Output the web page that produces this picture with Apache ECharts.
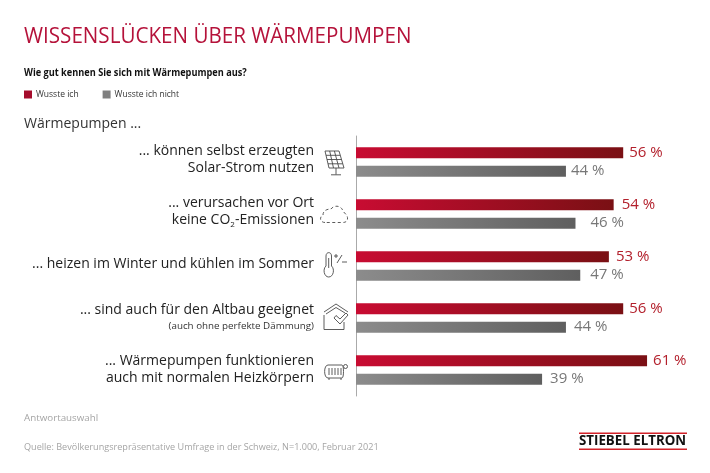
<!DOCTYPE html>
<html>
<head>
<meta charset="utf-8">
<style>html,body{margin:0;padding:0;background:#fff}#chart{width:710px;height:473px}</style>
<script src="https://cdn.jsdelivr.net/npm/echarts@6/dist/echarts.min.js"></script>
</head>
<body>
<div id="chart"></div>
<script>
var categories = [
  '... können selbst erzeugten\nSolar-Strom nutzen',
  '... verursachen vor Ort\nkeine CO₂-Emissionen',
  '... heizen im Winter und kühlen im Sommer',
  '... sind auch für den Altbau geeignet\n(auch ohne perfekte Dämmung)',
  '... Wärmepumpen funktionieren\nauch mit normalen Heizkörpern'
];
var seriesNames = ['Wusste ich', 'Wusste ich nicht'];
var knewValues = [56, 54, 53, 56, 61];
var didNotKnowValues = [44, 46, 47, 44, 39];

// der Abstand der Prozentwerte ist im Original nicht einheitlich
var knewLabelGap = [6, 8, 7, 6, 6];
var didNotKnowLabelGap = [5, 15, 10, 8, 8];
// die Beschriftungen sitzen unterschiedlich weit ueber der Balkenmitte
var categoryLift = [4, 4, 4, 0, 0];

var FONT = '"Open Sans", sans-serif';
var ICON = '#4a4a4a';
var iconCount = 0;

function withGap(values, gaps) {
  var res = [];
  for (var i = 0; i < values.length; i++) {
    res.push({ value: values[i], label: { distance: gaps[i] } });
  }
  return res;
}

function gradient(from, to) {
  return new echarts.graphic.LinearGradient(0, 0, 1, 0, [
    { offset: 0, color: from },
    { offset: 1, color: to }
  ]);
}

function categoryItems() {
  var res = [];
  for (var i = 0; i < categories.length; i++) {
    res.push({ value: categories[i], textStyle: { padding: [0, 0, categoryLift[i], 0] } });
  }
  return res;
}

function categoryLabel(value) {
  return value.split('\n').map(function (line) {
    if (line.charAt(0) === '(') return '{small|' + line + '}';
    if (line.indexOf('₂') > -1) {
      var parts = line.split('₂');
      return '{main|' + parts[0] + '}{sub|2}{main|' + parts[1] + '}';
    }
    return '{main|' + line + '}';
  }).join('\n');
}

function text(x, y, str, size, color, weight, scaleX) {
  return {
    type: 'text', x: x, y: y, scaleX: scaleX || 1,
    style: { text: str, fontFamily: FONT, fontSize: size, fill: color, fontWeight: weight || 'normal', verticalAlign: 'middle' }
  };
}

// der graphic-Baustein kennt keinen Typ "path", also eigene Formen registrieren
function icon(path, dash) {
  var name = 'icon' + (iconCount++);
  echarts.graphic.registerShape(name, echarts.graphic.extendPath(path, {}));
  return {
    type: name,
    style: { fill: 'none', stroke: ICON, lineWidth: 0.9, lineDash: dash || null }
  };
}

var Chart1 = echarts.init(document.getElementById('chart'));
var option1 = {
  animation: false,
  backgroundColor: '#fff',
  grid: { left: 356, top: 136, width: 334, height: 260 },
  legend: {
    left: 24, top: 90, padding: 0,
    itemWidth: 8, itemHeight: 8, itemGap: 24,
    textStyle: { fontFamily: FONT, fontSize: 8.5, color: '#333', padding: [0, 0, 0, -1] },
    data: [
      { name: seriesNames[0], icon: 'rect', itemStyle: { color: '#a50c2c' } },
      { name: seriesNames[1], icon: 'rect', itemStyle: { color: '#808080' } }
    ]
  },
  xAxis: { type: 'value', min: 0, max: 70, show: false },
  yAxis: {
    type: 'category',
    inverse: true,
    data: categoryItems(),
    axisTick: { show: false },
    axisLine: { lineStyle: { color: '#aaa', width: 1 } },
    axisLabel: {
      margin: 42,
      formatter: categoryLabel,
      rich: {
        main: { fontFamily: FONT, fontSize: 14, color: '#222', lineHeight: 17, align: 'right' },
        sub: { fontFamily: FONT, fontSize: 8, color: '#222', lineHeight: 17, align: 'right', verticalAlign: 'bottom' },
        small: { fontFamily: FONT, fontSize: 9.8, color: '#333', lineHeight: 16, align: 'right' }
      }
    }
  },
  series: [
    {
      name: seriesNames[0],
      type: 'bar',
      barWidth: 11,
      barGap: '66%',
      data: withGap(knewValues, knewLabelGap),
      itemStyle: { color: gradient('#c80c32', '#7a1014') },
      label: { show: true, position: 'right', formatter: '{c} %', fontFamily: FONT, fontSize: 15, color: '#b3202c' }
    },
    {
      name: seriesNames[1],
      type: 'bar',
      barWidth: 11,
      data: withGap(didNotKnowValues, didNotKnowLabelGap),
      itemStyle: { color: gradient('#8c8c8c', '#5f5f5f') },
      label: { show: true, position: 'right', formatter: '{c} %', fontFamily: FONT, fontSize: 15, color: '#777' }
    }
  ],
  graphic: [
    text(24, 37, 'WISSENSLÜCKEN ÜBER WÄRMEPUMPEN', 22, '#b5123a', 'normal', 0.937),
    text(24, 73, 'Wie gut kennen Sie sich mit Wärmepumpen aus?', 10.5, '#111', 'bold', 0.875),
    text(24, 124, 'Wärmepumpen ...', 14.5, '#333', 'normal', 0.967),
    text(24, 418, 'Antwortauswahl', 9.5, '#a5a5a5', 'normal', 1.03),
    text(24, 447, 'Quelle: Bevölkerungsrepräsentative Umfrage in der Schweiz, N=1.000, Februar 2021', 9.5, '#a5a5a5', 'normal', 0.957),

    // Solarpanel
    icon('M325 151L339 151L344 168L329 168ZM329.7 151L333.5 168M334.4 151L339 168M326 155.3L340.2 155.3M327 159.5L341.5 159.5M328 163.8L342.7 163.8M336 168L336 174.5M331 174.8L341 174.8'),
    // Wolke
    icon('M325 222.5C320 222.5 319 217 323 215C323 210 328 209 331 209C334 205 341 205 343 211C344 213 348 215 347.5 219C347 222 345 222.5 342 222.5Z', [3, 2.5]),
    // Thermometer
    icon('M326 266L326 256C326 251.5 331.5 251.5 331.5 256L331.5 266C335 269 333.5 277 328.7 277C324 277 322.5 269 326 266ZM328.7 258L328.7 268M334 256L338 256M336 254L336 258M337 263L342 255M342 262L347 262'),
    // Haus mit Haken
    icon('M324 312L336 304L348 312M326 314L336 307.5L345 313M324 315L324 329.5L344 329.5L344 322M340 319L336 315.5L334 318L340 324L348 315L346 313Z'),
    // Heizkoerper
    icon('M328 365L342 365C344 365 344 378 342 378L328 378C323.5 378 323.5 365 328 365ZM329 368L329 375M332 368L332 375M335 368L335 375M338 368L338 375M341 368L341 375M329 378L329 380M341 378L341 380'),
    {
      type: 'circle',
      shape: { cx: 345.5, cy: 366.5, r: 2 },
      style: { fill: '#fff', stroke: ICON, lineWidth: 0.9 }
    },

    // Logo
    { type: 'rect', shape: { x: 579, y: 432.5, width: 108, height: 1.6 }, style: { fill: '#d2232a' } },
    { type: 'rect', shape: { x: 579, y: 448.5, width: 108, height: 1.6 }, style: { fill: '#d2232a' } },
    text(579, 441.5, 'STIEBEL ELTRON', 13.3, '#111', 'bold')
  ]
};
Chart1.setOption(option1);
</script>
</body>
</html>
